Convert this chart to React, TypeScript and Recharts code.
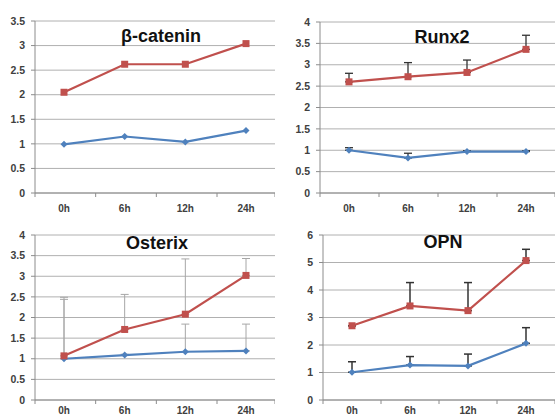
import React from 'react';
import { LineChart, Line, XAxis, YAxis, CartesianGrid, ErrorBar } from 'recharts';

const hours = ['0h', '6h', '12h', '24h'];

const betaCtrl = [0.99, 1.15, 1.04, 1.27];
const betaTreat = [2.05, 2.62, 2.62, 3.04];

const runxCtrl = [1.0, 0.82, 0.97, 0.97];
const runxCtrlErr = [0.06, 0.11, 0.02, 0.02];
const runxTreat = [2.6, 2.72, 2.82, 3.36];
const runxTreatErr = [0.2, 0.33, 0.29, 0.33];

const osxCtrl = [1.0, 1.09, 1.17, 1.19];
const osxCtrlErr = [1.44, 0.02, 0.67, 0.65];
const osxTreat = [1.07, 1.71, 2.08, 3.02];
const osxTreatErr = [1.42, 0.85, 1.34, 0.41];

const opnCtrl = [1.01, 1.27, 1.24, 2.06];
const opnCtrlErr = [0.38, 0.31, 0.43, 0.57];
const opnTreat = [2.7, 3.42, 3.25, 5.07];
const opnTreatErr = [0, 0.85, 1.02, 0.41];

const ticks35 = [0, 0.5, 1, 1.5, 2, 2.5, 3, 3.5];
const ticks4 = [0, 0.5, 1, 1.5, 2, 2.5, 3, 3.5, 4];
const ticks6 = [0, 1, 2, 3, 4, 5, 6];

const RED = '#c0504d';
const BLUE = '#4f81bd';
const AXIS = '#8c8c8c';
const FONT = '"Liberation Sans", Arial, sans-serif';

function buildRows(ctrl: number[], treat: number[], ctrlErr?: number[], treatErr?: number[]) {
  return hours.map((h, i) => ({
    hour: h,
    ctrl: ctrl[i],
    treat: treat[i],
    ctrlErr: ctrlErr ? [0, ctrlErr[i]] : [0, 0],
    treatErr: treatErr ? [0, treatErr[i]] : [0, 0],
  }));
}

const SquareDot = (props: any) => {
  const { cx, cy, index } = props;
  if (cx == null || cy == null) return null;
  return <rect key={`sq-${index}`} x={cx - 3.5} y={cy - 3.5} width={7} height={7} fill={RED} />;
};

const DiamondDot = (props: any) => {
  const { cx, cy, index } = props;
  if (cx == null || cy == null) return null;
  const r = 3.5;
  return (
    <polygon
      key={`dm-${index}`}
      points={`${cx},${cy - r} ${cx + r},${cy} ${cx},${cy + r} ${cx - r},${cy}`}
      fill={BLUE}
    />
  );
};

interface PanelProps {
  left: number;
  top: number;
  width: number;
  height: number;
  marginTop: number;
  yWidth: number;
  xHeight: number;
  xMargin: number;
  pad: number;
  domain: [number, number];
  ticks: number[];
  title: string;
  titleX: number;
  titleY: number;
  data: any[];
  errors: boolean;
  errColor: string;
  errStroke: number;
}

function Panel(p: PanelProps) {
  // category labels plus Excel-style tick marks between the categories
  const HourTick = (props: any) => {
    const { x, y, payload, index } = props;
    const axisY = y - p.xMargin;
    return (
      <g>
        <line x1={x - p.pad} x2={x - p.pad} y1={axisY} y2={axisY + 4} stroke={AXIS} />
        {index === hours.length - 1 && (
          <line x1={x + p.pad} x2={x + p.pad} y1={axisY} y2={axisY + 4} stroke={AXIS} />
        )}
        <text x={x} y={y} dy="0.71em" textAnchor="middle" fontSize={10} fontWeight="bold" fill="#404040" fontFamily={FONT}>
          {payload.value}
        </text>
      </g>
    );
  };

  return (
    <div style={{ position: 'absolute', left: p.left, top: p.top, width: p.width, height: p.height }}>
      <LineChart
        width={p.width}
        height={p.height}
        data={p.data}
        margin={{ top: p.marginTop, right: 0, bottom: 0, left: 0 }}
      >
        <CartesianGrid vertical={false} stroke="#b0b0b0" />
        <XAxis
          dataKey="hour"
          height={p.xHeight}
          padding={{ left: p.pad, right: p.pad }}
          axisLine={{ stroke: AXIS }}
          tickLine={false}
          tickSize={0}
          tickMargin={p.xMargin}
          tick={HourTick}
          interval={0}
        />
        <YAxis
          width={p.yWidth}
          domain={p.domain}
          ticks={p.ticks}
          interval={0}
          axisLine={{ stroke: AXIS }}
          tickLine={{ stroke: AXIS }}
          tickSize={4}
          tickMargin={6}
          tick={{ fontSize: 10.5, fontWeight: 'bold', fill: '#404040', fontFamily: FONT }}
        />
        <Line dataKey="ctrl" stroke={BLUE} strokeWidth={2.2} dot={DiamondDot} isAnimationActive={false}>
          {p.errors && (
            <ErrorBar dataKey="ctrlErr" direction="y" width={4} stroke={p.errColor} strokeWidth={p.errStroke} />
          )}
        </Line>
        <Line dataKey="treat" stroke={RED} strokeWidth={2.2} dot={SquareDot} isAnimationActive={false}>
          {p.errors && (
            <ErrorBar dataKey="treatErr" direction="y" width={4} stroke={p.errColor} strokeWidth={p.errStroke} />
          )}
        </Line>
      </LineChart>
      <div
        style={{
          position: 'absolute',
          left: p.titleX - 60,
          top: p.titleY - 11,
          width: 120,
          textAlign: 'center',
          fontFamily: FONT,
          fontWeight: 'bold',
          fontSize: 18,
          lineHeight: '22px',
          color: '#111',
        }}
      >
        {p.title}
      </div>
    </div>
  );
}

export default function App() {
  return (
    <div style={{ position: 'fixed', left: 0, top: 0, width: 555, height: 420, background: '#fff', overflow: 'hidden' }}>
      <Panel
        left={0} top={0} width={275} height={220} marginTop={21} yWidth={35} xHeight={27} xMargin={12} pad={29}
        domain={[0, 3.5]} ticks={ticks35} title="β-catenin" titleX={161} titleY={36}
        data={buildRows(betaCtrl, betaTreat)} errors={false} errColor="#333" errStroke={1}
      />
      <Panel
        left={275} top={0} width={280} height={220} marginTop={22} yWidth={45} xHeight={27} xMargin={12} pad={29}
        domain={[0, 4]} ticks={ticks4} title="Runx2" titleX={167} titleY={37}
        data={buildRows(runxCtrl, runxTreat, runxCtrlErr, runxTreatErr)} errors={true} errColor="#333" errStroke={1.3}
      />
      <Panel
        left={0} top={210} width={275} height={210} marginTop={25} yWidth={35} xHeight={20} xMargin={7} pad={29}
        domain={[0, 4]} ticks={ticks4} title="Osterix" titleX={157} titleY={33}
        data={buildRows(osxCtrl, osxTreat, osxCtrlErr, osxTreatErr)} errors={true} errColor="#a6a6a6" errStroke={1}
      />
      <Panel
        left={275} top={210} width={280} height={210} marginTop={25} yWidth={48} xHeight={20} xMargin={7} pad={29}
        domain={[0, 6]} ticks={ticks6} title="OPN" titleX={168} titleY={32}
        data={buildRows(opnCtrl, opnTreat, opnCtrlErr, opnTreatErr)} errors={true} errColor="#333" errStroke={1.5}
      />
    </div>
  );
}
